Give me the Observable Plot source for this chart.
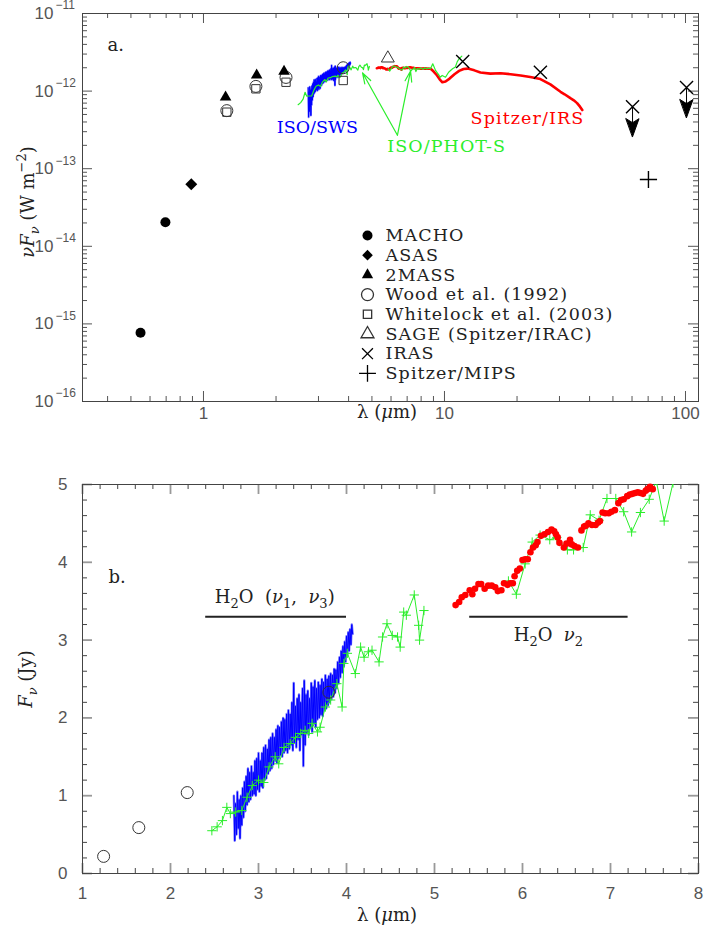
<!DOCTYPE html>
<html><head><meta charset="utf-8">
<script src="https://cdn.jsdelivr.net/npm/d3@7"></script>
<script src="https://cdn.jsdelivr.net/npm/@observablehq/plot@0.6"></script>
<style>
body{margin:0;background:#fff;}
#chart{width:704px;}
#chart svg{display:block;}
</style></head><body><div id="chart"></div>
<script>
// ---------------- DATA ----------------
// Panel a photometry: [wavelength (µm), νFν (W m^-2)]
const macho     = [[0.548,7.7e-16],[0.695,2.04e-14]];
const asas      = [[0.89,6.3e-14]];
const twomass   = [[1.235,8.35e-13],[1.662,1.6e-12],[2.159,1.79e-12]];
const wood      = [[1.25,5.6e-13],[1.65,1.15e-12],[2.2,1.5e-12],[3.8,2.0e-12]];
const whitelock = [[1.25,5.35e-13],[1.65,1.07e-12],[2.2,1.3e-12],[3.8,1.37e-12]];
const sage      = [[5.82,2.65e-12]];
const iras      = [[11.9,2.41e-12],[25,1.75e-12],[60.3,6.3e-13],[101,1.11e-12]];
const irasUpper = [[60.3,6.3e-13],[101,1.11e-12]];
const mips      = [[70.2,7.26e-14]];

// Panel b spectra: [wavelength (µm), Fν (Jy)]
const swsJy = [[2.72,1.00],[2.73,0.42],[2.74,0.90],[2.75,0.50],[2.76,1.05],[2.77,0.58],[2.78,0.95],[2.79,0.45],[2.80,1.00],[2.81,0.62],
[2.82,1.10],[2.83,0.72],[2.84,1.18],[2.85,0.80],[2.86,1.25],[2.87,0.88],[2.88,1.35],[2.89,0.92],[2.90,1.30],[2.91,0.95],
[2.92,1.38],[2.93,1.00],[2.94,1.30],[2.95,1.02],[2.96,1.45],[2.97,1.00],[2.98,1.48],[2.99,1.08],[3.00,1.55],[3.01,1.05],
[3.02,1.45],[3.03,1.12],[3.04,1.55],[3.05,1.10],[3.06,1.62],[3.07,1.20],[3.08,1.65],[3.09,1.22],[3.10,1.60],[3.11,1.28],
[3.12,1.72],[3.13,1.32],[3.14,1.75],[3.15,1.35],[3.16,1.80],[3.17,1.40],[3.18,1.75],[3.19,1.45],[3.20,1.85],[3.21,1.42],
[3.22,1.90],[3.23,1.48],[3.24,1.88],[3.25,1.52],[3.26,1.95],[3.27,1.50],[3.28,2.00],[3.29,1.55],[3.30,1.98],[3.31,1.58],
[3.32,2.05],[3.33,1.55],[3.34,2.10],[3.35,1.60],[3.36,2.05],[3.37,1.65],[3.38,2.20],[3.39,1.58],[3.40,2.45],[3.41,1.68],
[3.42,2.15],[3.43,1.62],[3.44,2.25],[3.45,1.72],[3.46,2.30],[3.47,1.58],[3.48,2.20],[3.49,1.78],[3.50,2.38],[3.51,1.38],
[3.52,2.48],[3.53,1.65],[3.54,2.30],[3.55,1.80],[3.56,2.35],[3.57,1.78],[3.58,2.25],[3.59,1.88],[3.60,2.45],[3.61,1.82],
[3.62,2.40],[3.63,1.92],[3.64,2.48],[3.65,1.88],[3.66,2.38],[3.67,1.98],[3.68,2.46],[3.69,2.00],[3.70,2.42],[3.71,2.04],
[3.72,2.50],[3.73,2.02],[3.74,2.46],[3.75,2.10],[3.76,2.55],[3.77,2.12],[3.78,2.50],[3.79,2.16],[3.80,2.54],[3.81,2.20],
[3.82,2.57],[3.83,2.24],[3.84,2.55],[3.85,2.27],[3.86,2.63],[3.87,2.32],[3.88,2.62],[3.89,2.38],[3.90,2.72],[3.91,2.44],
[3.92,2.78],[3.93,2.52],[3.94,2.86],[3.95,2.58],[3.96,2.92],[3.97,2.66],[3.98,2.98],[3.99,2.72],[4.00,3.05],[4.01,2.80],
[4.02,3.10],[4.03,2.86],[4.04,3.14],[4.05,2.94],[4.06,3.20],[4.07,3.08]];

const photJy1 = [[2.47,0.55],[2.53,0.60],[2.59,0.68],[2.64,0.85],[2.68,0.77],[2.74,0.79],[2.81,0.81],[2.87,0.98],[2.93,1.13],
[3.00,1.20],[3.06,1.17],[3.12,1.37],[3.19,1.50],[3.23,1.41],[3.29,1.62],[3.36,1.67],[3.42,1.75],[3.48,1.80],[3.53,1.84],
[3.57,1.80],[3.61,1.93],[3.67,1.82],[3.70,1.88],[3.76,2.14],[3.82,2.23],[3.89,2.44],[3.95,2.14],[3.97,2.70],[4.01,2.83],
[4.10,2.57],[4.16,2.91],[4.20,2.78],[4.25,2.85],[4.29,2.87],[4.37,2.72],[4.41,3.04],[4.46,3.21],[4.52,3.06],[4.58,3.04],
[4.61,2.91],[4.65,3.36],[4.68,3.32],[4.77,3.58],[4.82,3.19],[4.83,3.00],[4.88,3.38]];
const photJy2 = [[5.84,3.76],[5.93,3.59],[6.03,3.98],[6.11,4.26],[6.20,4.35],[6.31,4.29],[6.39,4.32],[6.51,4.16],[6.58,4.16],
[6.69,4.19],[6.77,4.61],[6.87,4.54],[6.96,4.82],[7.06,4.82],[7.15,4.65],[7.24,4.39],[7.34,4.64],[7.44,4.81],[7.52,5.05],
[7.61,4.53],[7.71,5.02]];

const irsJy = [[5.24,3.45],[5.28,3.49],[5.31,3.55],[5.35,3.58],[5.40,3.64],[5.43,3.59],[5.46,3.66],[5.50,3.72],[5.53,3.72],
[5.57,3.66],[5.61,3.70],[5.65,3.70],[5.69,3.68],[5.72,3.63],[5.76,3.64],[5.79,3.73],[5.83,3.71],[5.86,3.73],[5.89,3.73],
[5.91,3.82],[5.94,3.89],[5.97,3.92],[6.00,4.03],[6.03,4.04],[6.06,4.04],[6.09,4.13],[6.12,4.19],[6.15,4.22],[6.17,4.26],
[6.21,4.34],[6.25,4.36],[6.29,4.39],[6.33,4.42],[6.36,4.40],[6.38,4.36],[6.40,4.32],[6.42,4.25],[6.47,4.19],[6.50,4.24],
[6.54,4.29],[6.56,4.23],[6.59,4.21],[6.63,4.19],[6.67,4.41],[6.70,4.46],[6.72,4.47],[6.75,4.50],[6.79,4.48],[6.83,4.48],
[6.86,4.51],[6.88,4.53],[6.91,4.64],[6.94,4.63],[6.98,4.63],[7.01,4.65],[7.05,4.67],[7.09,4.76],[7.12,4.80],[7.15,4.81],
[7.19,4.85],[7.22,4.87],[7.25,4.88],[7.28,4.89],[7.31,4.90],[7.34,4.89],[7.37,4.88],[7.40,4.92],[7.42,4.94],[7.45,4.97],[7.48,4.94]];

const woodJy = [[1.24,0.22],[1.64,0.59],[2.19,1.04],[3.80,2.33]];

// Panel a parts of the spectra beyond panel b's range: [µm, W m^-2]
const photExtA = [[7.85,1.92e-12],[8.0,1.98e-12],[8.15,1.90e-12],[8.3,2.0e-12],[8.45,1.93e-12],[8.6,1.98e-12],[8.75,1.94e-12],
[8.94,2.25e-12],[9.18,1.85e-12],[9.47,1.62e-12],[9.6,1.51e-12],[9.78,1.59e-12],[10.1,1.51e-12],[10.4,1.75e-12],[10.8,1.94e-12],
[11.1,2.05e-12],[11.3,2.4e-12],[11.5,2.61e-12],[11.8,2.82e-12]];
const irsExtA = [[7.7,1.97e-12],[8.0,1.95e-12],[8.4,1.96e-12],[8.76,1.94e-12],[9.0,1.80e-12],[9.3,1.60e-12],[9.55,1.42e-12],
[9.8,1.30e-12],[10.1,1.33e-12],[10.5,1.45e-12],[11.0,1.65e-12],[11.5,1.82e-12],[12.0,1.93e-12],[12.5,1.95e-12],[13.3,1.85e-12],
[14.1,1.74e-12],[15.5,1.68e-12],[17.1,1.70e-12],[18.8,1.65e-12],[20.7,1.59e-12],[22.7,1.52e-12],[25.0,1.43e-12],[27.5,1.22e-12],
[30.3,9.8e-13],[31.5,9.1e-13],[33.3,8.1e-13],[34.4,7.6e-13],[35.5,7.0e-13],[36.5,6.3e-13],[37.3,5.7e-13]];

// Band annotations in panel b
const h2oBands = [{x1:2.40,x2:4.00,y:3.30},{x1:5.40,x2:7.20,y:3.30}];

// Tick labels
const xTicksA = [1,10,100];
const xTickLabelsA = ["1","10","100"];
const yTicksA = [1e-16,1e-15,1e-14,1e-13,1e-12,1e-11];
const yTickExpA = ["−16","−15","−14","−13","−12","−11"];
const xTicksB = [1,2,3,4,5,6,7,8];
const yTicksB = [0,1,2,3,4,5];

// Jy -> W m^-2 conversion used to show the same spectra as νFν in panel a
const C = 2.998e-12;
const nuFnu = ([l, f]) => [l, f * C / l];

// ---------------- STYLE ----------------
const SERIF = "DejaVu Serif";
const SANS = "Liberation Sans";
const GREEN = "#2bee2b";
const TICKC = "#555";
const LABC = "#555";

function tickRules(xMaj, xMin, yMaj, yMin, FW, FH, o) {
  const m = [];
  const xr = (v, len, s, w) => {
    m.push(Plot.ruleX(v, {x: d => d, insetTop: FH - len, stroke: s, strokeWidth: w}));
    m.push(Plot.ruleX(v, {x: d => d, insetBottom: FH - len, stroke: s, strokeWidth: w}));
  };
  const yr = (v, len, s, w) => {
    m.push(Plot.ruleY(v, {y: d => d, insetRight: FW - len, stroke: s, strokeWidth: w}));
    m.push(Plot.ruleY(v, {y: d => d, insetLeft: FW - len, stroke: s, strokeWidth: w}));
  };
  xr(xMin, o.minLen, o.minC, 1); xr(xMaj, o.majLen, o.majC, o.majW);
  yr(yMin, o.minLen, o.minC, 1); yr(yMaj, o.majLen, o.majC, o.majW);
  return m;
}

// ---------------- PANEL A ----------------
const xMinorA = [0.4,0.5,0.6,0.7,0.8,0.9,2,3,4,5,6,7,8,9,20,30,40,50,60,70,80,90];
const yMinorA = [];
for (let e = -16; e < -11; e++) for (let k = 2; k <= 9; k++) yMinorA.push(k * Math.pow(10, e));

const swsA = swsJy.map(nuFnu);
const photA1 = photJy1.map(nuFnu);
const photA2 = photJy2.map(nuFnu).concat(photExtA);
const irsA = irsJy.map(nuFnu).concat(irsExtA);

const legendItems = [
  {label: "MACHO", symbol: "circle", r: 5, fill: "black", stroke: "none"},
  {label: "ASAS", symbol: "diamond2", r: 4.8, fill: "black", stroke: "none"},
  {label: "2MASS", symbol: "triangle", r: 4.2, fill: "black", stroke: "none"},
  {label: "Wood et al. (1992)", symbol: "circle", r: 6, fill: "none", stroke: "#333"},
  {label: "Whitelock et al. (2003)", symbol: "square", r: 4.7, fill: "none", stroke: "#333"},
  {label: "SAGE (Spitzer/IRAC)", symbol: "triangle", r: 4.8, fill: "none", stroke: "#333"},
  {label: "IRAS", symbol: "times", r: 5, fill: "none", stroke: "black"},
  {label: "Spitzer/MIPS", symbol: "plus", r: 5.5, fill: "none", stroke: "black"}
];
const legendMarks = [];
legendItems.forEach((it, i) => {
  const dy = 222 + 19.7 * i;
  legendMarks.push(Plot.dot([0], {frameAnchor: "top-left", dx: 285, dy, symbol: it.symbol, r: it.r,
    fill: it.fill, stroke: it.stroke, strokeWidth: it.stroke === "none" ? 0 : 1.3}));
  legendMarks.push(Plot.text([it.label], {frameAnchor: "top-left", dx: 303, dy, text: d => d, textAnchor: "start",
    lineAnchor: "middle", fontFamily: SERIF, fontSize: 17.5, fill: "#222"}));
});

const irasArrowShape = {
  draw(ctx, l) {
    ctx.moveTo(0, 0); ctx.lineTo(0, -l + 12);
    ctx.moveTo(0, -l); ctx.lineTo(-6.5, -l + 18); ctx.lineTo(0, -l + 14); ctx.lineTo(6.5, -l + 18); ctx.closePath();
  }
};

const photArrows = [
  {x1: 6.38, y1: 2.7e-13, x2: 4.57, y2: 1.72e-12},
  {x1: 6.38, y1: 2.7e-13, x2: 7.23, y2: 1.82e-12}
];

const plotA = Plot.plot({
  width: 704, height: 460,
  marginLeft: 82, marginRight: 6, marginTop: 13, marginBottom: 59,
  style: {fontFamily: SANS, background: "white", overflow: "visible"},
  x: {type: "log", domain: [Math.pow(10, -0.502), Math.pow(10, 2.054)], axis: null},
  y: {type: "log", domain: [1e-16, 1e-11], axis: null},
  marks: [
    ...tickRules(xTicksA, xMinorA, yTicksA, yMinorA, 616, 388, {minLen: 5, majLen: 10, minC: TICKC, majC: TICKC, majW: 1}),
    Plot.frame({stroke: "#444", strokeWidth: 1}),
    Plot.text(xTicksA, {x: d => d, frameAnchor: "bottom", dy: 12, lineAnchor: "middle", text: (d, i) => xTickLabelsA[i], fontSize: 17, fill: LABC}),
    Plot.text(yTicksA, {y: d => d, frameAnchor: "left", dx: -29, lineAnchor: "middle", text: () => "10", textAnchor: "end", fontSize: 17, fill: LABC}),
    Plot.text(yTicksA, {y: d => d, frameAnchor: "left", dx: -27, dy: -8, lineAnchor: "middle", text: (d, i) => yTickExpA[i], textAnchor: "start", fontSize: 12, fill: LABC}),
    // spectra
    Plot.line(swsA, {x: d => d[0], y: d => d[1], stroke: "#7a7aff", strokeWidth: 2}),
    Plot.line(swsA, {x: d => d[0], y: d => d[1], stroke: "#0000ff", strokeWidth: 1}),
    Plot.line(irsA, {x: d => d[0], y: d => d[1], stroke: "#ff0000", strokeWidth: 2.6}),
    Plot.line(photA1, {x: d => d[0], y: d => d[1], stroke: GREEN, strokeWidth: 1.2}),
    Plot.line(photA2, {x: d => d[0], y: d => d[1], stroke: GREEN, strokeWidth: 1.2}),
    // photometry
    Plot.dot(macho, {x: d => d[0], y: d => d[1], symbol: "circle", r: 5, fill: "black"}),
    Plot.dot(asas, {x: d => d[0], y: d => d[1], symbol: "diamond2", r: 5.4, fill: "black"}),
    Plot.dot(wood, {x: d => d[0], y: d => d[1], symbol: "circle", r: 6, fill: "none", stroke: "#333", strokeWidth: 1}),
    Plot.dot(whitelock, {x: d => d[0], y: d => d[1], symbol: "square", r: 4.7, fill: "none", stroke: "#333", strokeWidth: 1}),
    Plot.dot(twomass, {x: d => d[0], y: d => d[1], symbol: "triangle", r: 4.3, fill: "black"}),
    Plot.dot(sage, {x: d => d[0], y: d => d[1], symbol: "triangle", r: 4.8, fill: "none", stroke: "#333", strokeWidth: 1}),
    Plot.vector(irasUpper, {x: d => d[0], y: d => d[1], length: 30, rotate: 180, anchor: "start", shape: irasArrowShape,
      fill: "black", stroke: "black", strokeWidth: 1}),
    Plot.dot(iras, {x: d => d[0], y: d => d[1], symbol: "times", r: 6, stroke: "black", strokeWidth: 1.4}),
    Plot.dot(mips, {x: d => d[0], y: d => d[1], symbol: "plus", r: 5.6, stroke: "black", strokeWidth: 1.4}),
    // annotations
    Plot.arrow(photArrows, {x1: "x1", y1: "y1", x2: "x2", y2: "y2", stroke: GREEN, strokeWidth: 1.2, headLength: 14, headAngle: 35}),
    Plot.text(["ISO/SWS"], {x: 2.97, y: 3.4e-13, text: d => d, fill: "#0000ff", fontFamily: SERIF, fontSize: 17.5}),
    Plot.text(["ISO/PHOT-S"], {x: 10.2, y: 1.93e-13, text: d => d, fill: GREEN, fontFamily: SERIF, fontSize: 17.5}),
    Plot.text(["Spitzer/IRS"], {x: 22.1, y: 4.43e-13, text: d => d, fill: "#ff0000", fontFamily: SERIF, fontSize: 17.5}),
    Plot.text(["a."], {frameAnchor: "top-left", dx: 25, dy: 32, lineAnchor: "middle", text: d => d, textAnchor: "start", fontFamily: SERIF, fontSize: 18, fill: "#222"}),
    ...legendMarks
  ]
});

// ---------------- PANEL B ----------------
const xMinorB = [], yMinorB = [];
for (let v = 1; v < 8; v += 1) for (let k = 1; k <= 4; k++) xMinorB.push(+(v + 0.2 * k).toFixed(1));
for (let v = 0; v < 5; v += 1) for (let k = 1; k <= 4; k++) yMinorB.push(+(v + 0.2 * k).toFixed(1));

const plotB = Plot.plot({
  width: 704, height: 469,
  marginLeft: 82, marginRight: 6, marginTop: 24, marginBottom: 56,
  style: {fontFamily: SANS, background: "white", overflow: "visible"},
  x: {domain: [1, 8], axis: null},
  y: {domain: [0, 5], axis: null},
  marks: [
    ...tickRules(xTicksB, xMinorB, yTicksB, yMinorB, 616, 389, {minLen: 5, majLen: 10, minC: "#444", majC: "#999", majW: 1.8}),
    Plot.frame({stroke: "#444", strokeWidth: 1}),
    Plot.text(xTicksB, {x: d => d, frameAnchor: "bottom", dy: 20, lineAnchor: "middle", text: d => String(d), fontSize: 17, fill: LABC}),
    Plot.text(yTicksB, {y: d => d, frameAnchor: "left", dx: -15, lineAnchor: "middle", text: d => String(d), textAnchor: "end", fontSize: 17, fill: LABC}),
    Plot.line(swsJy, {x: d => d[0], y: d => d[1], stroke: "#7a7aff", strokeWidth: 2.4}),
    Plot.line(swsJy, {x: d => d[0], y: d => d[1], stroke: "#0000ff", strokeWidth: 1}),
    Plot.line(photJy1, {x: d => d[0], y: d => d[1], stroke: GREEN, strokeWidth: 1, clip: true}),
    Plot.line(photJy2, {x: d => d[0], y: d => d[1], stroke: GREEN, strokeWidth: 1, clip: true}),
    Plot.dot(photJy1.concat(photJy2), {x: d => d[0], y: d => d[1], symbol: "plus", r: 3.1, stroke: GREEN, strokeWidth: 1, clip: true}),
    Plot.dot(woodJy, {x: d => d[0], y: d => d[1], symbol: "circle", r: 6, fill: "none", stroke: "#333", strokeWidth: 1}),
    Plot.dot(irsJy, {x: d => d[0], y: d => d[1], r: 3.3, fill: "#ff0000"}),
    Plot.ruleY(h2oBands, {y: "y", x1: "x1", x2: "x2", stroke: "#222", strokeWidth: 2}),
    Plot.text(["b."], {frameAnchor: "top-left", dx: 26, dy: 93, lineAnchor: "middle", text: d => d, textAnchor: "start", fontFamily: SERIF, fontSize: 18, fill: "#222"})
  ]
});

const chart = document.getElementById("chart");
chart.appendChild(plotA);
chart.appendChild(plotB);

// widen the serif annotation lettering a little
const wideLabels = new Set(legendItems.map(d => d.label).concat(["ISO/PHOT-S", "Spitzer/IRS"]));
d3.select(plotA).selectAll("text").filter(function() { return wideLabels.has(this.textContent); })
  .attr("letter-spacing", "1.1px");

// ---------- rich text labels (sub/superscripts) ----------
function richText(svg, x, y, parts, {rotate = 0, anchor = "middle", size = 18, fill = "#222"} = {}) {
  const t = d3.select(svg).append("text")
    .attr("transform", `translate(${x},${y}) rotate(${rotate})`)
    .attr("text-anchor", anchor)
    .attr("fill", fill)
    .style("font-family", SERIF).style("font-size", size + "px");
  let cur = 0;
  for (const p of parts) {
    const off = p.shift || 0;
    const sp = t.append("tspan").text(p.t).attr("dy", off - cur);
    cur = off;
    if (p.i) sp.attr("font-style", "italic");
    if (p.s) sp.attr("font-size", p.s);
  }
  return t;
}

// Panel a labels
richText(plotA, 34, 202, [
  {t: "νF", i: 1}, {t: "ν", i: 1, s: 13, shift: 5}, {t: " (W m", shift: 0}, {t: "−2", s: 13, shift: -8}, {t: ")", shift: 0}
], {rotate: -90});
richText(plotA, 387, 418, [{t: "λ"}, {t: " ("}, {t: "μ", i: 1}, {t: "m)"}]);

// Panel b labels
richText(plotB, 32, 219, [{t: "F", i: 1}, {t: "ν", i: 1, s: 13, shift: 5}, {t: " (Jy)", shift: 0}], {rotate: -90});
richText(plotB, 387, 461, [{t: "λ"}, {t: " ("}, {t: "μ", i: 1}, {t: "m)"}]);

const sxB = plotB.scale("x"), syB = plotB.scale("y");
richText(plotB, sxB.apply(3.19), syB.apply(3.55) + 6, [
  {t: "H"}, {t: "2", s: 13, shift: 5}, {t: "O  (", shift: 0}, {t: "ν", i: 1}, {t: "1", s: 13, shift: 5}, {t: ",  ", shift: 0},
  {t: "ν", i: 1}, {t: "3", s: 13, shift: 5}, {t: ")", shift: 0}
]);
richText(plotB, sxB.apply(6.30), syB.apply(3.06) + 6, [
  {t: "H"}, {t: "2", s: 13, shift: 5}, {t: "O  ", shift: 0}, {t: "ν", i: 1}, {t: "2", s: 13, shift: 5}
]);
</script></body></html>
